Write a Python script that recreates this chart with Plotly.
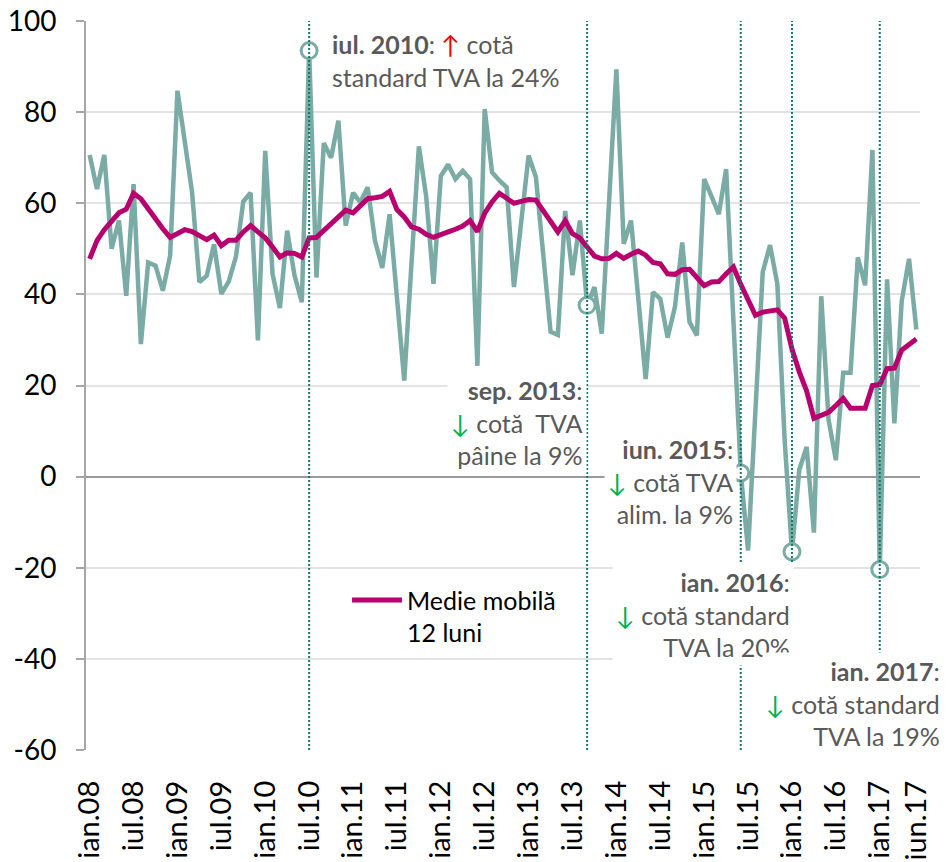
import plotly.graph_objects as go

# ---------------- data ----------------
abbr = ["ian", "feb", "mar", "apr", "mai", "iun", "iul", "aug", "sep", "oct", "noi", "dec"]
months = [f"{abbr[m]}.{y:02d}" for y in range(8, 18) for m in range(12)][:114]  # ian.08 .. iun.17

valori = [
    70.6, 63.1, 70.6, 50.0, 56.2, 39.7, 64.2, 29.1, 47.0, 46.3,
    40.8, 48.5, 84.7, 73.5, 62.4, 42.7, 44.1, 51.0, 40.1, 42.8,
    48.3, 60.4, 62.3, 29.9, 71.5, 44.5, 37.0, 54.0, 44.2, 38.3,
    93.5, 43.7, 73.2, 70.0, 78.1, 55.1, 62.3, 60.2, 63.5, 51.8,
    45.8, 57.6, 39.5, 21.1, 47.0, 72.5, 61.5, 42.3, 66.0, 68.5,
    65.3, 67.1, 65.3, 24.3, 80.7, 66.8, 65.0, 63.5, 41.6, 56.0,
    70.5, 65.7, 48.7, 31.8, 31.1, 58.3, 44.2, 56.2, 37.6, 41.6,
    31.4, 60.0, 89.4, 51.1, 56.2, 39.0, 21.4, 40.5, 39.0, 30.5,
    37.2, 51.4, 33.9, 31.0, 65.3, 61.5, 57.6, 67.5, 34.0, 0.8,
    -16.2, 14.0, 44.9, 50.8, 42.3, 8.0, -16.5, 1.5, 6.5, -12.3,
    39.6, 12.5, 3.6, 22.8, 22.8, 48.1, 42.0, 71.7, -20.4, 43.3,
    11.7, 38.5, 47.8, 32.3,
]

medie_mobila = [
    47.8, 51.8, 54.2, 56.1, 57.9, 58.7, 62.2, 61.0, 58.8, 56.4,
    54.4, 52.5, 53.5, 54.2, 53.8, 53.0, 52.0, 53.0, 50.7, 51.9,
    51.9, 53.7, 55.1, 53.7, 52.4, 50.4, 48.2, 49.1, 49.0, 48.2,
    52.4, 52.5, 54.0, 55.3, 56.8, 58.5, 57.9, 59.4, 61.0, 61.2,
    61.5, 62.6, 58.6, 57.0, 54.8, 54.3, 53.2, 52.5, 53.0, 53.7,
    54.3, 55.0, 56.2, 53.8, 57.8, 60.3, 62.2, 61.0, 60.0, 60.4,
    60.8, 60.7, 58.3, 56.0, 53.7, 56.2, 53.3, 52.4, 50.3, 48.4,
    47.8, 47.9, 49.0, 47.9, 48.8, 49.5, 48.6, 47.0, 46.7, 44.5,
    44.4, 45.4, 45.5, 43.6, 41.9, 42.7, 42.8, 44.5, 46.0, 42.2,
    38.6, 35.4, 36.1, 36.3, 36.6, 34.8, 28.0, 23.0, 18.8, 12.8,
    13.4, 14.1, 15.6, 17.2, 15.0, 15.0, 15.0, 20.0, 20.2, 23.7,
    23.8, 27.8, 29.0, 30.2,
]

tick_labels = ["ian.08", "iul.08", "ian.09", "iul.09", "ian.10", "iul.10", "ian.11", "iul.11",
               "ian.12", "iul.12", "ian.13", "iul.13", "ian.14", "iul.14", "ian.15", "iul.15",
               "ian.16", "iul.16", "ian.17", "iun.17"]
y_ticks = [-60, -40, -20, 0, 20, 40, 60, 80, 100]

event_months = ["iul.10", "sep.13", "iun.15", "ian.16", "ian.17"]
event_texts = [
    "<b>iul. 2010</b>: <span style='color:#FF0000'>↑</span> cotă<br>standard TVA la 24%",
    "<b>sep. 2013</b>:<br><span style='color:#00B050'>↓</span> cotă  TVA<br>pâine la 9%",
    "<b>iun. 2015</b>:<br><span style='color:#00B050'>↓</span> cotă TVA<br>alim. la 9%",
    "<b>ian. 2016</b>:<br><span style='color:#00B050'>↓</span> cotă standard<br>TVA la 20%",
    "<b>ian. 2017</b>:<br><span style='color:#00B050'>↓</span> cotă standard<br>TVA la 19%",
]

# ---------------- styling ----------------
TEAL = "#7AABA4"
MAG = "#B8006E"
DOT = "#12796B"
TXT = "#595959"
FONT = "Lato, 'Open Sans', sans-serif"

x = list(range(len(months)))
ev_idx = [months.index(m) for m in event_months]
ev_val = [valori[i] for i in ev_idx]

fig = go.Figure()
fig.add_trace(go.Scatter(x=x, y=valori, mode="lines", line=dict(color=TEAL, width=4.5),
                         showlegend=False, hoverinfo="skip"))
fig.add_trace(go.Scatter(x=x, y=medie_mobila, mode="lines", line=dict(color=MAG, width=5),
                         name="Medie mobilă<br>12 luni"))
fig.add_trace(go.Scatter(x=ev_idx, y=ev_val, mode="markers",
                         marker=dict(size=16, color="white", line=dict(color=TEAL, width=3)),
                         showlegend=False, hoverinfo="skip"))

for i in ev_idx:
    fig.add_shape(type="line", xref="x", yref="paper", x0=i, x1=i, y0=0, y1=1,
                  line=dict(color=DOT, width=2, dash="2px,2px"), layer="above")

# annotation anchors in paper coordinates: (x, y, xanchor, align)
ann_pos = [(0.290, 0.994, "left", "left"),
           (0.601, 0.520, "right", "right"),
           (0.781, 0.439, "right", "right"),
           (0.849, 0.2565, "right", "right"),
           (1.029, 0.1344, "right", "right")]
for (ax, ay, xa, al), t in zip(ann_pos, event_texts):
    fig.add_annotation(x=ax, y=ay, xref="paper", yref="paper", text=t, showarrow=False,
                       xanchor=xa, yanchor="top", align=al, bgcolor="white", borderpad=3,
                       font=dict(family=FONT, size=25, color=TXT))

fig.update_layout(
    width=947, height=862,
    margin=dict(l=86, r=27, t=21, b=112),
    paper_bgcolor="white", plot_bgcolor="white",
    font=dict(family=FONT, color="#000000"),
    legend=dict(x=0.313, y=0.237, xanchor="left", yanchor="top", bgcolor="rgba(0,0,0,0)",
                font=dict(family=FONT, size=25, color="#000000"), valign="top",
                itemwidth=50),
)
fig.update_xaxes(range=[-0.5, 113.5], tickmode="array",
                 tickvals=[months.index(l) for l in tick_labels],
                 ticktext=tick_labels, tickangle=-90, showgrid=False, zeroline=False,
                 showline=False, ticks="", ticklabelstandoff=24, automargin=False,
                 ticklabeloverflow="allow",
                 tickfont=dict(family=FONT, size=29, color="#000000"))
fig.update_yaxes(range=[-60, 100], tickmode="array", tickvals=y_ticks,
                 ticktext=[str(v) for v in y_ticks],
                 showgrid=True, gridcolor="#E3E3E3", gridwidth=1.5,
                 zeroline=True, zerolinecolor="#9A9A9A", zerolinewidth=1.5,
                 showline=True, linecolor="#A6A6A6", linewidth=2,
                 ticks="outside", ticklen=8, tickcolor="#A6A6A6", tickwidth=1.5,
                 ticklabelstandoff=14, automargin=False, ticklabeloverflow="allow",
                 tickfont=dict(family=FONT, size=28, color="#000000"))

# page body without default margin so the 947x862 figure fills the window exactly
fig.write_html("out.html", config={"displayModeBar": False},
               post_script="document.body.style.margin='0';")
